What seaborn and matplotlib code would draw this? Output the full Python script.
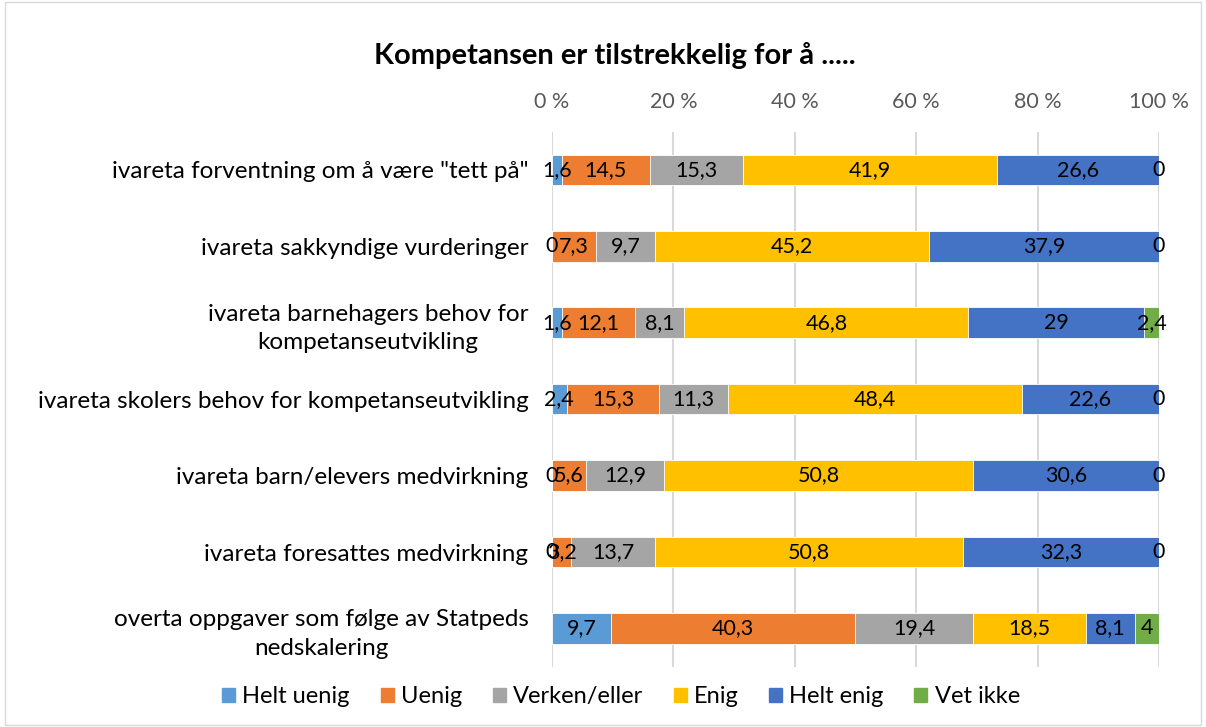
import matplotlib
matplotlib.use("Agg")
import matplotlib.pyplot as plt
import seaborn as sns
import pandas as pd
import numpy as np
from matplotlib.patches import Rectangle

categories = [
    'ivareta forventning om å være "tett på"',
    "ivareta sakkyndige vurderinger",
    "ivareta barnehagers behov for\nkompetanseutvikling",
    "ivareta skolers behov for kompetanseutvikling",
    "ivareta barn/elevers medvirkning",
    "ivareta foresattes medvirkning",
    "overta oppgaver som følge av Statpeds\nnedskalering",
]
series = ["Helt uenig", "Uenig", "Verken/eller", "Enig", "Helt enig", "Vet ikke"]
helt_uenig = [1.6, 0, 1.6, 2.4, 0, 0, 9.7]
uenig = [14.5, 7.3, 12.1, 15.3, 5.6, 3.2, 40.3]
verken = [15.3, 9.7, 8.1, 11.3, 12.9, 13.7, 19.4]
enig = [41.9, 45.2, 46.8, 48.4, 50.8, 50.8, 18.5]
helt_enig = [26.6, 37.9, 29, 22.6, 30.6, 32.3, 8.1]
vet_ikke = [0, 0, 2.4, 0, 0, 0, 4]
colors = ["#5B9BD5", "#ED7D31", "#A5A5A5", "#FFC000", "#4472C4", "#70AD47"]
title = "Kompetansen er tilstrekkelig for å ....."

vals = np.array([helt_uenig, uenig, verken, enig, helt_enig, vet_ikke])
totals = vals.sum(axis=0)
pct = vals / totals * 100
cum = np.cumsum(pct, axis=0)

sns.set_theme(style="white")
plt.rcParams["font.family"] = ["Lato", "DejaVu Sans"]
plt.rcParams["text.color"] = "black"

fig = plt.figure(figsize=(12.06, 7.27), dpi=100)
ax = fig.add_axes([0.4577, 0.083, 0.5033, 0.736])

# draw from last cumulative to first (overlay stacking)
for i in range(len(series) - 1, -1, -1):
    df = pd.DataFrame({"cat": categories, "cum": cum[i]})
    sns.barplot(data=df, x="cum", y="cat", color=colors[i], width=0.4,
                orient="h", ax=ax, saturation=1, edgecolor="white", linewidth=0.6,
                zorder=3)

# value labels
for i in range(len(series)):
    for j in range(len(categories)):
        xc = cum[i][j] - pct[i][j] / 2
        v = vals[i][j]
        s = f"{v:g}".replace(".", ",")
        ax.text(xc, j, s, ha="center", va="center", fontsize=15.5, color="black", zorder=5)

ax.set_xlim(0, 100)
ax.set_ylim(6.5, -0.5)
ax.xaxis.tick_top()
ax.set_xticks(np.arange(0, 101, 20))
ax.set_xticklabels([f"{t} %" for t in range(0, 101, 20)], color="#595959", fontsize=15.5)
ax.tick_params(axis="x", length=0, pad=14)
ax.tick_params(axis="y", length=0, pad=17)
for lab in ax.get_yticklabels():
    lab.set_fontsize(17.5)
    lab.set_multialignment("center")
    lab.set_linespacing(1.45)
    lab.set_color("black")
ax.set_xlabel("")
ax.set_ylabel("")
ax.grid(axis="x", color="#D9D9D9", linewidth=1.5, zorder=0)
ax.grid(axis="y", visible=False)
for sp in ax.spines.values():
    sp.set_visible(False)
if ax.get_legend() is not None:
    ax.get_legend().remove()

handles = [Rectangle((0, 0), 1, 1, color=c) for c in colors]
leg = fig.legend(handles, series, loc="center", bbox_to_anchor=(0.515, 0.042), ncol=6,
                 frameon=False, fontsize=17, handlelength=0.55, handleheight=0.55,
                 handletextpad=0.3, columnspacing=1.3)
for t in leg.get_texts():
    t.set_color("black")

fig.text(0.51, 0.924, title, ha="center", va="center", fontsize=21,
         fontweight="bold", color="black")

fig.patches.append(Rectangle((0.004, 0.003), 0.992, 0.994, transform=fig.transFigure,
                             fill=False, edgecolor="#D9D9D9", linewidth=1))

fig.savefig("out.png", dpi=100)
